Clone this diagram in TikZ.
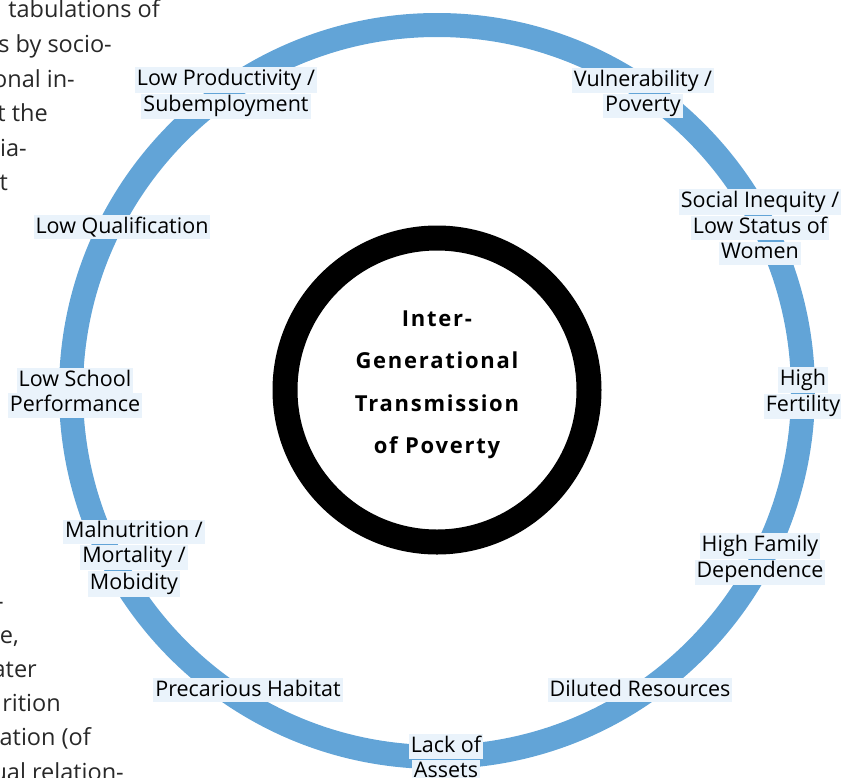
\documentclass[tikz,border=0pt]{standalone}
\usepackage{fontspec}
\setmainfont{Open Sans}
\newfontfamily\ctrfont[LetterSpace=8]{Open Sans}
\definecolor{ringblue}{RGB}{98,164,215}
\definecolor{labbg}{RGB}{234,243,251}
\definecolor{bgink}{RGB}{40,40,40}
\newcommand{\hlbox}[1]{{\setlength{\fboxsep}{2pt}\colorbox{labbg}{\rule[-4pt]{0pt}{15pt}#1}}}
\tikzset{
  lab/.style={inner sep=0pt, align=center, font=\fontsize{21.5}{25}\selectfont},
  bgtext/.style={anchor=base east, inner sep=0pt, font=\fontsize{23.5}{34}\selectfont, text=bgink},
  ring/.style={draw=ringblue, line width=24pt},
  hub/.style={draw=black, line width=25pt}
}
\begin{document}
\begin{tikzpicture}[x=1pt, y=-1pt]
\useasboundingbox (0,0) rectangle (841,777);
% background paragraph fragments
\node[bgtext] (p1) at (160,17) {tabulations of};
\node[bgtext] (p2) at (112,52) {s by socio-};
\node[bgtext] (p3) at (75,87) {onal in-};
\node[bgtext] (p4) at (48,121) {t the};
\node[bgtext] (p5) at (27,156) {ia-};
\node[bgtext] (p6) at (8,190) {t};
\node[bgtext] (p7) at (4,609) {-};
\node[bgtext] (p8) at (19,643) {e,};
\node[bgtext] (p9) at (37,677) {ater};
\node[bgtext] (p10) at (61,711) {rition};
\node[bgtext] (p11) at (91,745) {ation (of};
\node[bgtext] (p12) at (124,780) {ual relation-};
% rings
\draw[ring] (437,391) circle[radius=366];
\draw[hub] (437,390) circle[radius=152];
\node[align=center, inner sep=0pt, font=\ctrfont\bfseries\fontsize{22}{42.5}\selectfont] (ctr) at (437,385)
  {Inter-\\Generational\\Transmission\\of Poverty};
% labels
\node[lab] (prod) at (226,93) {\hlbox{Low Productivity /}\\\hlbox{Subemployment}};
\node[lab] (vuln) at (643,93) {\hlbox{Vulnerability /}\\\hlbox{Poverty}};
\node[lab] (soc) at (760,227) {\hlbox{Social Inequity /}\\\hlbox{Low Status of}\\\hlbox{Women}};
\node[lab] (qual) at (122,227) {\hlbox{Low Qualification}};
\node[lab] (fert) at (803,393) {\hlbox{High}\\\hlbox{Fertility}};
\node[lab] (school) at (75,393) {\hlbox{Low School}\\\hlbox{Performance}};
\node[lab] (maln) at (134,558) {\hlbox{Malnutrition /}\\\hlbox{Mortality /}\\\hlbox{Mobidity}};
\node[lab] (fam) at (760,559) {\hlbox{High Family}\\\hlbox{Dependence}};
\node[lab] (hab) at (248,690) {\hlbox{Precarious Habitat}};
\node[lab] (dil) at (640,690) {\hlbox{Diluted Resources}};
\node[lab] (assets) at (446,759) {\hlbox{Lack of}\\\hlbox{Assets}};
\end{tikzpicture}
\end{document}
